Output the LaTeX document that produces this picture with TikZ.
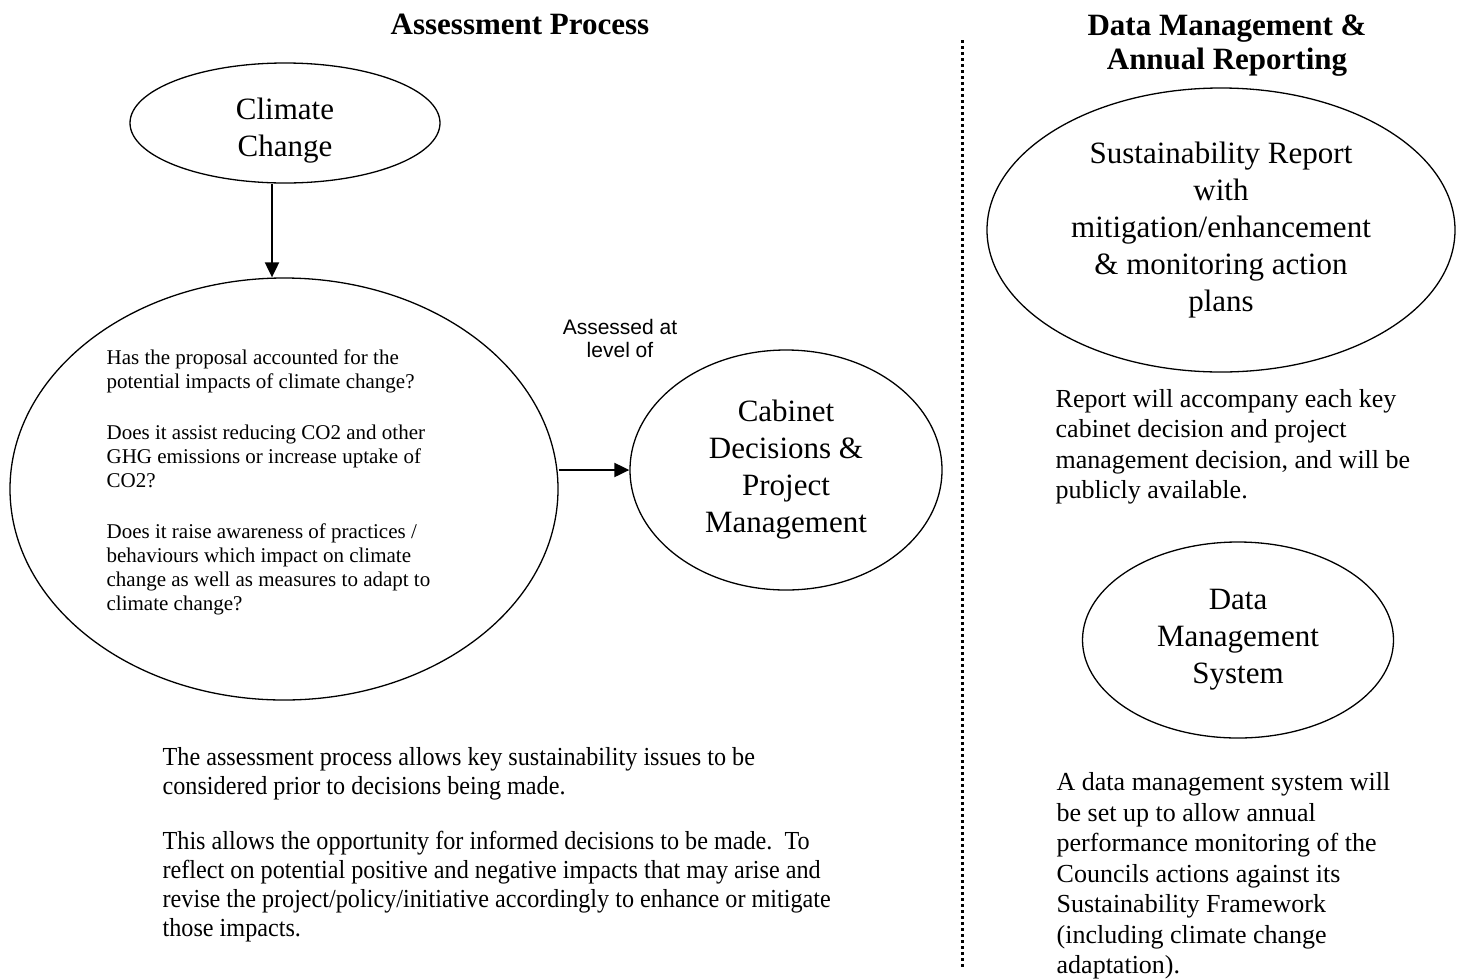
\documentclass[tikz,border=0pt]{standalone}
\usepackage{fontspec}
\setmainfont{Liberation Serif}
\setsansfont{Liberation Sans}
\newfontfamily\narrowserif[FakeStretch=0.93]{Liberation Serif}
\usetikzlibrary{shapes.geometric, arrows.meta, positioning}

\begin{document}
\begin{tikzpicture}[x=1pt, y=-1pt, line width=1.3pt,
    oval/.style={draw, ellipse, inner sep=0pt, align=center,
      font=\fontsize{31}{37}\selectfont},
    note/.style={align=left, inner sep=0pt, anchor=west,
      font=\fontsize{26}{30.5}\selectfont},
    head/.style={align=center, inner sep=0pt,
      font=\fontsize{31}{34}\selectfont\bfseries},
    flow/.style={-{Triangle[length=15pt, width=14pt]}, line width=2pt}]
  \useasboundingbox (0,0) rectangle (1474,978);

  % headings and divider
  \node[head] (h0) at (520,24) {Assessment Process};
  \node[head] (h1) at (1227,46) {Data Management \&\\ Annual Reporting};
  \draw[line width=3pt, dash pattern=on 3pt off 3pt] (962,40) -- (962,968);

  % assessment process
  \node[oval, minimum width=310pt, minimum height=120pt] (0) at (285,123)
    {\rule{0pt}{37pt}Climate\\ Change};
  \node[draw, ellipse, minimum width=548pt, minimum height=422pt] (1) at (284,489) {};
  \node[note, font=\fontsize{21}{24}\selectfont] (2) at (106,482) {
    Has the proposal accounted for the\\
    potential impacts of climate change?\\[27pt]
    Does it assist reducing CO2 and other\\
    GHG emissions or increase uptake of\\
    CO2?\\[27pt]
    Does it raise awareness of practices /\\
    behaviours which impact on climate\\
    change as well as measures to adapt to\\
    climate change?};
  \node[oval, minimum width=312pt, minimum height=240pt] (3) at (786,470)
    {Cabinet\\ Decisions \&\\ Project\\ Management};
  \node[align=center, inner sep=0pt, font=\sffamily\fontsize{21}{23}\selectfont]
    (4) at (620,338) {Assessed at\\ level of};
  \node[note, font=\narrowserif\fontsize{26}{29}\selectfont] (5) at (162,845) {
    The assessment process allows key sustainability issues to be\\
    considered prior to decisions being made.\\[26pt]
    This allows the opportunity for informed decisions to be made.\ \ To\\
    reflect on potential positive and negative impacts that may arise and\\
    revise the project/policy/initiative accordingly to enhance or mitigate\\
    those impacts.};

  % data management and reporting
  \node[oval, minimum width=468pt, minimum height=284pt] (6) at (1221,230)
    {Sustainability Report\\ with\\ mitigation/enhancement\\
     \& monitoring action\\ plans};
  \node[note] (7) at (1055,447) {
    Report will accompany each key\\
    cabinet decision and project\\
    management decision, and will be\\
    publicly available.};
  \node[oval, minimum width=311pt, minimum height=196pt] (8) at (1238,640)
    {Data\\ Management\\ System};
  \node[note] (9) at (1056,876) {
    A data management system will\\
    be set up to allow annual\\
    performance monitoring of the\\
    Councils actions against its\\
    Sustainability Framework\\
    (including climate change\\
    adaptation).};

  \path[flow]
    ([xshift=-13pt]0.south) edge ([xshift=-13pt]0.south |- 1.north)
    (3.west -| 1.east) edge (3.west);
\end{tikzpicture}
\end{document}
